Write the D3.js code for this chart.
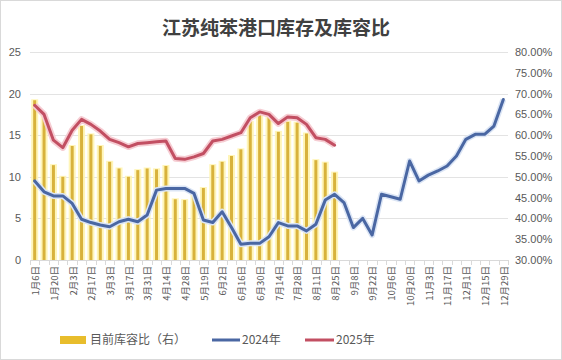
<!DOCTYPE html>
<html><head><meta charset="utf-8">
<script src="https://cdn.jsdelivr.net/npm/d3@7"></script>
<style>
html,body{margin:0;padding:0;background:#fff;}
svg{display:block;font-family:"Noto Sans CJK SC","Noto Sans",sans-serif;}
</style></head>
<body><svg id="c" width="562" height="360"></svg>
<script>
const categories = ["1月6日","1月13日","1月20日","1月27日","2月3日","2月10日","2月17日","2月24日","3月3日","3月10日","3月17日","3月24日","3月31日","4月7日","4月14日","4月21日","4月28日","5月12日","5月19日","5月26日","6月2日","6月9日","6月16日","6月23日","6月30日","7月7日","7月14日","7月21日","7月28日","8月4日","8月11日","8月18日","8月25日","9月1日","9月8日","9月15日","9月22日","9月29日","10月6日","10月13日","10月20日","10月27日","11月3日","11月10日","11月17日","11月24日","12月1日","12月8日","12月15日","12月22日","12月29日"];
// 目前库容比（右）, percent
const ratio2025 = [68.4,64.8,52.8,50.0,57.4,62.2,60.2,57.4,53.6,52.0,50.0,51.6,52.0,51.8,52.6,44.6,44.4,45.6,47.3,52.8,53.6,55.0,56.6,63.2,65.0,64.4,60.8,63.2,63.0,60.4,54.0,53.4,51.0];
// 2024年 inventory (left axis)
const inv2024 = [9.5,8.2,7.7,7.7,6.8,4.9,4.5,4.2,4.0,4.6,4.9,4.6,5.4,8.4,8.6,8.6,8.6,8.0,4.8,4.5,5.8,3.9,1.9,2.0,2.0,2.8,4.5,4.1,4.1,3.5,4.3,7.2,7.9,6.9,3.9,5.0,3.0,7.9,7.6,7.3,11.9,9.5,10.2,10.7,11.3,12.5,14.5,15.1,15.1,16.1,19.3];
// 2025年 inventory (left axis)
const inv2025 = [18.6,17.5,14.4,13.5,15.6,16.9,16.3,15.5,14.5,14.1,13.6,14.0,14.1,14.2,14.3,12.2,12.1,12.4,12.8,14.3,14.5,14.9,15.3,17.1,17.8,17.5,16.4,17.2,17.1,16.3,14.7,14.5,13.8];
const leftTicks = [0,5,10,15,20,25];
const rightTicks = [0.30,0.35,0.40,0.45,0.50,0.55,0.60,0.65,0.70,0.75,0.80];
const legendLabels = ["目前库容比（右）","2024年","2025年"];
const title = "江苏纯苯港口库存及库容比";

const svg = d3.select("#c");
const W=562,H=360;
const L=30,R=508,T=52,B=260;
svg.append("rect").attr("x",0.5).attr("y",0.5).attr("width",W-1).attr("height",H-1).attr("fill","#fff").attr("stroke","#d9d9d9");

const x = d3.scaleBand().domain(categories).range([L,R]).paddingInner(0).paddingOuter(0);
const yL = d3.scaleLinear().domain([0,25]).range([B,T]);
const yR = d3.scaleLinear().domain([0.30,0.80]).range([B,T]);
const cx = (d)=> x(d)+x.bandwidth()/2;

svg.append("text").attr("x",276).attr("y",35).attr("text-anchor","middle")
  .attr("font-size",19).attr("font-weight","bold").attr("fill","#404040").text(title);

// gridlines
svg.append("g").selectAll("line").data(leftTicks.filter(d=>d>0)).join("line")
  .attr("x1",L).attr("x2",R).attr("y1",d=>Math.round(yL(d))+0.5).attr("y2",d=>Math.round(yL(d))+0.5)
  .attr("stroke","#e3e3e3").attr("stroke-width",1);

// left axis
const gl = svg.append("g").attr("transform",`translate(${L},0)`)
  .call(d3.axisLeft(yL).tickValues(leftTicks).tickSize(0).tickPadding(9));
gl.select(".domain").remove();
gl.selectAll("text").attr("font-size",11).attr("fill","#595959").attr("font-family","'Liberation Sans',sans-serif");

// right axis
const gr = svg.append("g").attr("transform",`translate(${R},0)`)
  .call(d3.axisRight(yR).tickValues(rightTicks).tickSize(0).tickPadding(7).tickFormat(d3.format(".2%")));
gr.select(".domain").remove();
gr.selectAll("text").attr("font-size",11).attr("fill","#595959").attr("font-family","'Liberation Sans',sans-serif");

// bars
const barCats = categories.slice(0, ratio2025.length);
const gb = svg.append("g");
gb.selectAll("rect.h").data(ratio2025).join("rect").attr("class","h")
  .attr("x",(d,i)=>cx(barCats[i])-3.5).attr("width",7)
  .attr("y",d=>yR(d/100)-1).attr("height",d=>B-yR(d/100)+1)
  .attr("fill","#fff4b0").attr("opacity",0.9);
gb.selectAll("rect.b").data(ratio2025).join("rect").attr("class","b")
  .attr("x",(d,i)=>cx(barCats[i])-1.5).attr("width",3)
  .attr("y",d=>yR(d/100)).attr("height",d=>B-yR(d/100))
  .attr("fill","#d8b23c");

// x axis
svg.append("line").attr("x1",L).attr("x2",R).attr("y1",B+0.5).attr("y2",B+0.5).attr("stroke","#d9d9d9");
svg.append("g").selectAll("line").data(d3.range(categories.length+1)).join("line")
  .attr("x1",i=>Math.round(L+i*x.step())+0.5).attr("x2",i=>Math.round(L+i*x.step())+0.5)
  .attr("y1",B).attr("y2",B+5).attr("stroke","#d9d9d9");
svg.append("g").selectAll("text").data(categories.filter((d,i)=>i%2===0)).join("text")
  .attr("transform",d=>`translate(${cx(d)+1},${B+6}) rotate(-90)`)
  .attr("text-anchor","end").attr("dy","0.35em")
  .attr("font-size",9.5).attr("fill","#595959").text(d=>d);

// lines
const line = (arr)=> d3.line().x((d,i)=>cx(categories[i])).y(d=>yL(d)).curve(d3.curveLinear)(arr);
svg.append("path").attr("d",line(inv2024)).attr("fill","none").attr("stroke","#dbe5f5").attr("stroke-width",6).attr("stroke-linejoin","round");
svg.append("path").attr("d",line(inv2024)).attr("fill","none").attr("stroke","#4a67a3").attr("stroke-width",3).attr("stroke-linejoin","round").attr("stroke-linecap","round");
svg.append("path").attr("d",line(inv2025)).attr("fill","none").attr("stroke","#f6cdd3").attr("stroke-width",6.5).attr("stroke-linejoin","round");
svg.append("path").attr("d",line(inv2025)).attr("fill","none").attr("stroke","#c24f62").attr("stroke-width",3).attr("stroke-linejoin","round").attr("stroke-linecap","round");

// legend
const lg = svg.append("g").attr("font-size",12).attr("fill","#595959");
lg.append("rect").attr("x",60).attr("y",336).attr("width",26).attr("height",8).attr("fill","#e8bd2c");
lg.append("text").attr("x",90).attr("y",340).attr("dy","0.35em").text(legendLabels[0]);
lg.append("line").attr("x1",212).attr("x2",240).attr("y1",340).attr("y2",340).attr("stroke","#4a67a3").attr("stroke-width",3);
lg.append("text").attr("x",242).attr("y",340).attr("dy","0.35em").text(legendLabels[1]);
lg.append("line").attr("x1",305).attr("x2",334).attr("y1",340).attr("y2",340).attr("stroke","#c24f62").attr("stroke-width",3);
lg.append("text").attr("x",336).attr("y",340).attr("dy","0.35em").text(legendLabels[2]);
</script></body></html>
